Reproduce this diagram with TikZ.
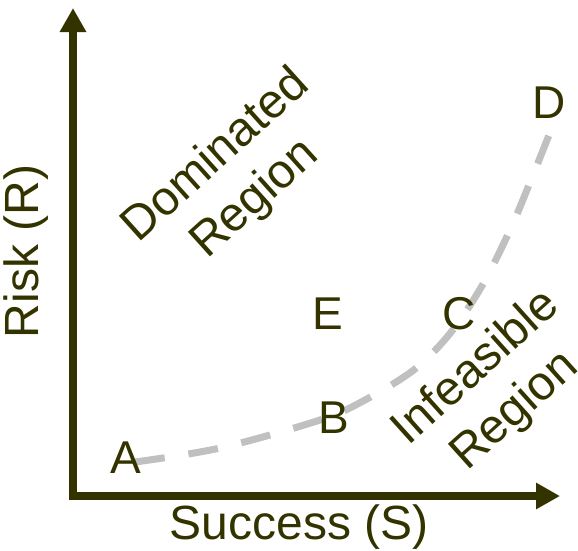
\documentclass[tikz,border=0pt]{standalone}
\usepackage{fontspec}
\setmainfont{Liberation Sans}
\usetikzlibrary{arrows.meta}
\definecolor{olive}{RGB}{51,51,0}
\definecolor{curvegray}{RGB}{192,192,192}
\begin{document}
\begin{tikzpicture}[x=1pt,y=-1pt,
  axis/.style={draw=olive,line width=8pt,line join=miter,
    {Triangle[width=25pt,length=24pt]}-{Triangle[width=25pt,length=24pt]}},
  frontier/.style={draw=curvegray,line width=7pt,dash pattern=on 30pt off 24pt},
  ptlabel/.style={text=olive,font=\fontsize{46}{52}\selectfont,inner sep=0pt,anchor=base},
  axlabel/.style={text=olive,font=\fontsize{48}{56}\selectfont,inner sep=0pt,anchor=base},
  reglabel/.style={text=olive,font=\fontsize{48}{58}\selectfont,align=center,inner sep=0pt,rotate=42}]
\useasboundingbox (0,0) rectangle (578,550);
\coordinate (ytip) at (73,8);
\coordinate (origin) at (73,496);
\coordinate (xtip) at (560,496);
\coordinate (cs) at (135,462);
\coordinate (ce) at (555,120);
\draw[frontier] plot[smooth,tension=0.55] coordinates {(cs) (220,448) (320,420) (365,400) (415,369) (452,331) (483,284) (510,230) (531,180) (ce)};
\draw[axis] (ytip) -- (origin) -- (xtip);
\node[ptlabel] (A) at (125.5,473) {A};
\node[ptlabel] (B) at (334,433) {B};
\node[ptlabel] (C) at (459,329) {C};
\node[ptlabel] (D) at (549.5,118) {D};
\node[ptlabel] (E) at (328,329) {E};
\node[axlabel] (S) at (299,539) {Success (S)};
\node[axlabel,rotate=90] (R) at (38,251.5) {Risk (R)};
\node[reglabel] (dom) at (236,178) {Dominated\\Region};
\node[reglabel] (inf) at (496,390) {Infeasible\\Region};
\end{tikzpicture}
\end{document}
